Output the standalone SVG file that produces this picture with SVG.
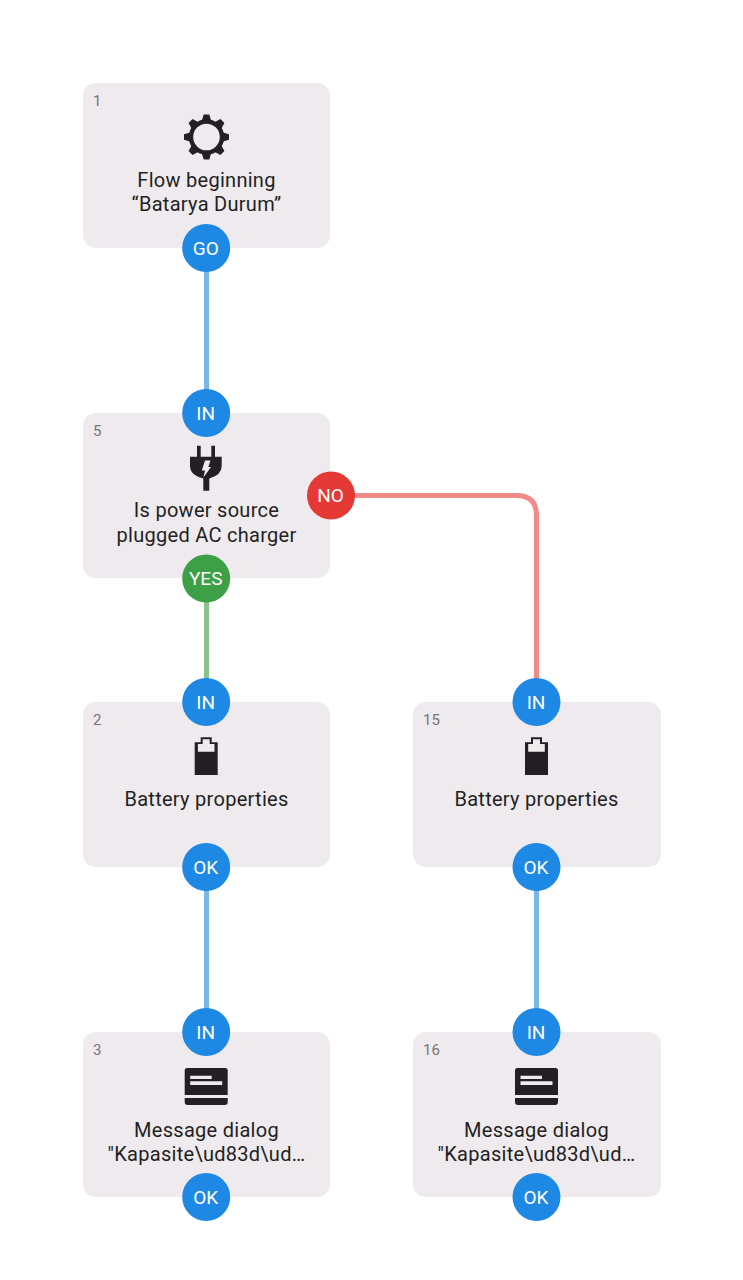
<svg xmlns="http://www.w3.org/2000/svg" xmlns:xlink="http://www.w3.org/1999/xlink" width="743" height="1280" viewBox="0 0 743 1280">
<style>
text{font-family:Roboto,"Liberation Sans",sans-serif}
.card{fill:#EEEAED}
.num{font-size:15px;fill:#757575}
.lbl{font-size:20px;fill:#231F23;text-anchor:middle;letter-spacing:.28px}
.pt{font-size:19px;fill:#fff;text-anchor:middle}
.b{fill:#1E88E5}.g{fill:#3DA046}.r{fill:#E53935}
.ic{fill:#231F23}
.c{fill:none;stroke-width:5}
</style>
<defs>
<g id="battery"><path class="ic" d="M-11.500 -14.700H-5.500V-19.700H5.500V-14.700H11.500V18H-11.500Z"/><path class="card" d="M-8.300 -13H-3.500V-17.700H3.500V-13H8.300V-5.300H-8.300Z"/></g>
<g id="dialog"><path class="ic" d="M-21.500 -18.500Q-21.500 -21 -19 -21H19Q21.500 -21 21.500 -18.500V6H-21.500ZM-21.500 9H21.500V13Q21.500 16 18.500 16H-18.500Q-21.500 16 -21.500 13Z"/><path class="card" d="M-16 -13.300H5.500V-10H-16ZM-16 -7.700H16V-4H-16Z"/></g>
</defs>
<rect width="743" height="1280" fill="#fff"/>
<g id="connectors">
<path class="c" stroke="#78B6EA" d="M206.500 248V413"/>
<path class="c" stroke="#87C48C" d="M206.500 578V702"/>
<path class="c" stroke="#F28B87" d="M331 495.500H516.500Q536.500 495.500 536.500 515.500V702"/>
<path class="c" stroke="#78B6EA" d="M206.500 867V1032"/>
<path class="c" stroke="#78B6EA" d="M536.500 867V1032"/>
</g>
<g id="node1">
<rect class="card" x="83" y="83" width="247" height="165" rx="13"/>
<text class="num" x="93" y="106">1</text>
<g transform="translate(206.500 137)">
<circle r="15.500" fill="none" stroke="#231F23" stroke-width="4.400"/>
<g class="ic"><path id="t" d="M-2.800 -22.500H2.800L4.600 -16.500H-4.600Z"/><use xlink:href="#t" transform="rotate(45)"/><use xlink:href="#t" transform="rotate(90)"/><use xlink:href="#t" transform="rotate(135)"/><use xlink:href="#t" transform="rotate(180)"/><use xlink:href="#t" transform="rotate(225)"/><use xlink:href="#t" transform="rotate(270)"/><use xlink:href="#t" transform="rotate(315)"/></g>
</g>
<text class="lbl" x="206.500" y="187">Flow beginning</text>
<text class="lbl" x="206.500" y="211">“Batarya Durum”</text>
<circle class="b" cx="206.200" cy="248" r="24"/><text class="pt" x="205.700" y="254.500">GO</text>
</g>
<g id="node5">
<rect class="card" x="83" y="413" width="247" height="165" rx="13"/>
<text class="num" x="93" y="436">5</text>
<path class="ic" d="M197 445.700H200.700V456.700H211.300V445.700H215V456.700H221.700V466Q221.700 475 209.300 478.500V490.700H203.300V478.500Q190 475 190 466V456.700H197Z"/>
<path class="card" d="M205 460.500H210.500L208.300 467H211L203.500 477.500L205 470.500H201.800Z"/>
<text class="lbl" x="206.500" y="517">Is power source</text>
<text class="lbl" x="206.500" y="542">plugged AC charger</text>
<circle class="b" cx="206.200" cy="413" r="24"/><text class="pt" x="205.700" y="419.500">IN</text>
<circle class="g" cx="206.200" cy="578.500" r="24"/><text class="pt" x="205.700" y="585">YES</text>
<circle class="r" cx="331" cy="495.500" r="24"/><text class="pt" x="330.500" y="502">NO</text>
</g>
<g id="node2">
<rect class="card" x="83" y="702" width="247" height="165" rx="13"/>
<text class="num" x="93" y="725">2</text>
<use xlink:href="#battery" x="206.200" y="757"/>
<text class="lbl" x="206.500" y="806">Battery properties</text>
<circle class="b" cx="206.200" cy="702" r="24"/><text class="pt" x="205.700" y="708.500">IN</text>
<circle class="b" cx="206.200" cy="867" r="24"/><text class="pt" x="205.700" y="873.500">OK</text>
</g>
<g id="node15">
<rect class="card" x="413" y="702" width="248" height="165" rx="13"/>
<text class="num" x="423" y="725">15</text>
<use xlink:href="#battery" x="536.500" y="757"/>
<text class="lbl" x="536.500" y="806">Battery properties</text>
<circle class="b" cx="536.500" cy="702" r="24"/><text class="pt" x="536" y="708.500">IN</text>
<circle class="b" cx="536.500" cy="867" r="24"/><text class="pt" x="536" y="873.500">OK</text>
</g>
<g id="node3">
<rect class="card" x="83" y="1032" width="247" height="165" rx="13"/>
<text class="num" x="93" y="1055">3</text>
<use xlink:href="#dialog" x="206.200" y="1089"/>
<text class="lbl" x="206.500" y="1137">Message dialog</text>
<text class="lbl" x="206.500" y="1161">"Kapasite\ud83d\ud…</text>
<circle class="b" cx="206.200" cy="1032" r="24"/><text class="pt" x="205.700" y="1038.500">IN</text>
<circle class="b" cx="206.200" cy="1197" r="24"/><text class="pt" x="205.700" y="1203.500">OK</text>
</g>
<g id="node16">
<rect class="card" x="413" y="1032" width="248" height="165" rx="13"/>
<text class="num" x="423" y="1055">16</text>
<use xlink:href="#dialog" x="536.500" y="1089"/>
<text class="lbl" x="536.500" y="1137">Message dialog</text>
<text class="lbl" x="536.500" y="1161">"Kapasite\ud83d\ud…</text>
<circle class="b" cx="536.500" cy="1032" r="24"/><text class="pt" x="536" y="1038.500">IN</text>
<circle class="b" cx="536.500" cy="1197" r="24"/><text class="pt" x="536" y="1203.500">OK</text>
</g>
</svg>
